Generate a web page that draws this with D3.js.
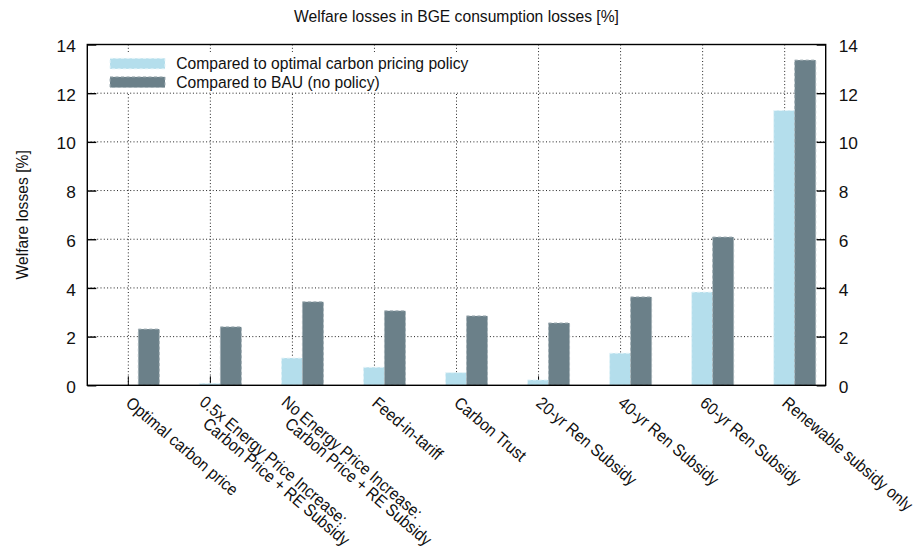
<!DOCTYPE html>
<html>
<head>
<meta charset="utf-8">
<script src="https://cdn.jsdelivr.net/npm/d3@7"></script>
<style>
  html, body { margin: 0; padding: 0; background: #fff; }
  svg { display: block; font-family: "Liberation Sans", Arial, Helvetica, sans-serif; }
</style>
</head>
<body>
<svg id="chart" width="917" height="549"></svg>
<script>
// Policy scenarios along the x axis (multi-line labels split on "\n")
const categories = [
  "Optimal carbon price",
  "0.5x Energy Price Increase:\nCarbon Price + RE Subsidy",
  "No Energy Price Increase:\nCarbon Price + RE Subsidy",
  "Feed-in-tariff",
  "Carbon Trust",
  "20-yr Ren Subsidy",
  "40-yr Ren Subsidy",
  "60-yr Ren Subsidy",
  "Renewable subsidy only"
];

// Welfare losses [%] relative to the optimal carbon pricing policy
const vsOptimal = [0, 0.08, 1.12, 0.74, 0.52, 0.22, 1.32, 3.83, 11.29];
// Welfare losses [%] relative to business as usual (no policy)
const vsBAU = [2.31, 2.40, 3.43, 3.06, 2.85, 2.56, 3.63, 6.09, 13.36];

const seriesNames = ["Compared to optimal carbon pricing policy", "Compared to BAU (no policy)"];
const yTicks = [0, 2, 4, 6, 8, 10, 12, 14];

const titleText = "Welfare losses in BGE consumption losses [%]";
const yLabelText = "Welfare losses [%]";

const colors = ["#b4deec", "#6b8089"];
const edgeColors = ["#e6f4f9", "#a3b0b6"];
const textColor = "#111";

// Helvetica-like lettering: tall glyphs, slightly narrow set width
const labelSize = 17.2, labelSqueeze = 0.91;
const tickSize = 17.3;
const catSize = 17, catSqueeze = 0.9;
const catAngle = 40.5;

const svg = d3.select("#chart");

const plot = { left: 87.3, right: 825.7, top: 44.5, bottom: 385.3 };

const x = d3.scaleLinear().domain([-0.5, categories.length - 0.5]).range([plot.left, plot.right]);
const y = d3.scaleLinear().domain([0, 14]).range([plot.bottom, plot.top]);

// Bar slots within each cluster, in category units
const barWidth = 0.256;
const barStart = [-0.134, 0.122];

function squeezedText(parent, px, py, str, opts) {
  const o = Object.assign({ size: labelSize, k: labelSqueeze, anchor: "start", rotate: 0 }, opts || {});
  return parent.append("text")
    .attr("transform", `translate(${px},${py}) rotate(${o.rotate}) scale(${o.k},1)`)
    .attr("text-anchor", o.anchor)
    .attr("font-size", o.size)
    .attr("fill", textColor)
    .text(str);
}

// Dotted grid
const grid = svg.append("g").attr("stroke", "#222").attr("stroke-width", 1).attr("stroke-dasharray", "1,2.3");
grid.selectAll("line.h").data(yTicks.filter(t => t > 0 && t < 14)).join("line")
  .attr("x1", plot.left).attr("x2", plot.right)
  .attr("y1", d => y(d)).attr("y2", d => y(d));
grid.selectAll("line.v").data(categories.map((c, i) => i)).join("line")
  .attr("x1", d => x(d)).attr("x2", d => x(d))
  .attr("y1", plot.top).attr("y2", plot.bottom);

// Bottom ticks at each category
svg.append("g").selectAll("line").data(categories.map((c, i) => i)).join("line")
  .attr("x1", d => x(d)).attr("x2", d => x(d))
  .attr("y1", plot.bottom).attr("y2", plot.bottom - 9)
  .attr("stroke", "#000").attr("stroke-width", 1);

// Opaque legend background
svg.append("rect").attr("x", 100).attr("y", 52).attr("width", 378).attr("height", 40).attr("fill", "#fff");

// Bars
const series = [vsOptimal, vsBAU];
series.forEach((vals, s) => {
  const g = svg.append("g");
  g.selectAll("rect").data(vals.map((v, i) => ({ v, i })).filter(d => d.v > 0)).join("rect")
    .attr("x", d => x(d.i + barStart[s]))
    .attr("width", d => x(d.i + barStart[s] + barWidth) - x(d.i + barStart[s]))
    .attr("y", d => y(d.v))
    .attr("height", d => y(0) - y(d.v))
    .attr("fill", colors[s])
    .attr("stroke", edgeColors[s])
    .attr("stroke-width", 1)
    .attr("stroke-dasharray", "3,2.5");
});

// Legend entries
const legend = svg.append("g");
seriesNames.forEach((name, s) => {
  const base = 68.9 + s * 18.6;
  legend.append("rect")
    .attr("x", 110).attr("y", base - 10.6).attr("width", 55).attr("height", 10.6)
    .attr("fill", colors[s]).attr("stroke", edgeColors[s]).attr("stroke-width", 1).attr("stroke-dasharray", "3,2.5");
  squeezedText(legend, 176.2, base, name);
});

// Plot border and y ticks on both sides
svg.append("rect")
  .attr("x", plot.left).attr("y", plot.top)
  .attr("width", plot.right - plot.left).attr("height", plot.bottom - plot.top)
  .attr("fill", "none").attr("stroke", "#000").attr("stroke-width", 1.4);

const yAxisL = d3.axisLeft(y).tickValues(yTicks).tickSizeInner(-9).tickSizeOuter(0).tickPadding(11.5);
const yAxisR = d3.axisRight(y).tickValues(yTicks).tickSizeInner(-9).tickSizeOuter(0).tickPadding(13);

function styleAxis(g) {
  g.select(".domain").remove();
  g.selectAll(".tick line").attr("stroke", "#000").attr("stroke-width", 1.4);
  g.selectAll(".tick text").attr("font-size", tickSize).attr("fill", textColor).attr("dy", "0.41em")
    .attr("font-family", "'Liberation Sans', Arial, Helvetica, sans-serif");
}
svg.append("g").attr("transform", `translate(${plot.left},0)`).call(yAxisL).call(styleAxis);
svg.append("g").attr("transform", `translate(${plot.right},0)`).call(yAxisR).call(styleAxis);

// Rotated category labels (second line of a two-line label sits further along)
const xl = svg.append("g");
categories.forEach((c, i) => {
  const lines = c.split("\n");
  const g = xl.append("g").attr("transform", `translate(${x(i)},${plot.bottom}) rotate(${catAngle})`);
  const place = lines.length === 1 ? [[10, 17.2]] : [[3, 21.8], [19.5, 36.2]];
  lines.forEach((ln, j) => {
    squeezedText(g, place[j][0], place[j][1], ln, { size: catSize, k: catSqueeze });
  });
});

// Title
squeezedText(svg, (plot.left + plot.right) / 2, 22.3, titleText, { anchor: "middle" });

// Y axis label
squeezedText(svg, 28, (plot.top + plot.bottom) / 2, yLabelText, { anchor: "middle", rotate: -90 });
</script>
</body>
</html>
